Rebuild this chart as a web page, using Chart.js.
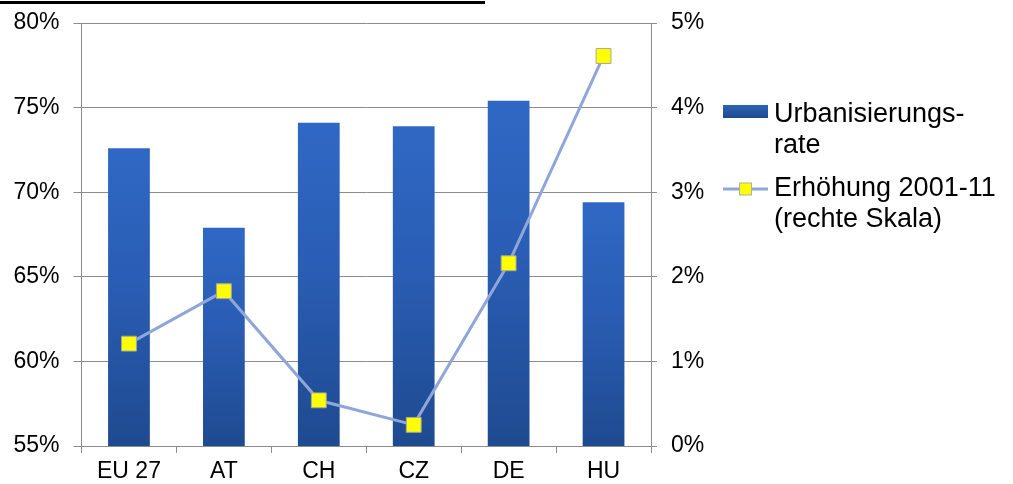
<!DOCTYPE html>
<html>
<head>
<meta charset="utf-8">
<script src="https://cdn.jsdelivr.net/npm/chart.js@4/dist/chart.umd.min.js"></script>
<style>
  html, body { margin: 0; padding: 0; background: #fff; }
  #wrap { position: relative; width: 1013px; height: 484px; }
  #rule { position: absolute; left: 0; top: 1px; width: 485px; height: 3px; background: #000; }
  canvas { position: absolute; left: 0; top: 0; }
</style>
</head>
<body>
<div id="wrap">
  <canvas id="c" width="1013" height="484"></canvas>
  <div id="rule"></div>
</div>
<script>
// Länder / Regionen
const categories = ['EU 27', 'AT', 'CH', 'CZ', 'DE', 'HU'];
// Urbanisierungsrate in %
const urbanisierungsrate = [72.6, 67.9, 74.1, 73.9, 75.4, 69.4];
// Erhöhung 2001-11 in Prozentpunkten (rechte Skala)
const erhoehung = [1.21, 1.83, 0.54, 0.25, 2.16, 4.61];
// Achsenbeschriftungen
const leftTicks = [55, 60, 65, 70, 75, 80];
const rightTicks = [0, 1, 2, 3, 4, 5];
const legendLabels = [['Urbanisierungs-', 'rate'], ['Erhöhung 2001-11', '(rechte Skala)']];

const FONT = '"Liberation Sans", Arial, sans-serif';
const BAR_FRACTION = 0.44;
const GRID = '#8c8c8c';

// vertical shading per bar: brighter at the top, darker toward the base
function barGradient(ctx) {
  const chart = ctx.chart;
  const y = chart.scales.yL;
  const fallback = '#2a5ca8';
  if (!y || !chart.chartArea || ctx.dataIndex === undefined) return fallback;
  const top = y.getPixelForValue(urbanisierungsrate[ctx.dataIndex]);
  const base = chart.chartArea.bottom;
  if (!isFinite(top) || !isFinite(base) || base <= top) return fallback;
  const g = chart.ctx.createLinearGradient(0, top, 0, base);
  g.addColorStop(0, '#2f68c4');
  g.addColorStop(0.45, '#2a5db4');
  g.addColorStop(1, '#1e4a8f');
  return g;
}

const legendPlugin = {
  id: 'sideLegend',
  afterDraw(chart) {
    const c = chart.ctx;
    const x0 = chart.chartArea.right + 72;
    c.save();
    // Balken-Symbol
    const sg = c.createLinearGradient(0, 105, 0, 118);
    sg.addColorStop(0, '#2d63b5');
    sg.addColorStop(1, '#1d4a8e');
    c.fillStyle = sg;
    c.fillRect(x0, 105, 45, 13);
    // Linien-Symbol
    c.strokeStyle = '#8fa6d9';
    c.lineWidth = 3;
    c.beginPath();
    c.moveTo(x0, 189);
    c.lineTo(x0 + 45, 189);
    c.stroke();
    c.fillStyle = '#ffff00';
    c.strokeStyle = '#b0b0a0';
    c.lineWidth = 1;
    c.fillRect(x0 + 16.5, 183, 12, 12);
    c.strokeRect(x0 + 16.5, 183, 12, 12);
    // Texte
    c.fillStyle = '#000';
    c.font = '27px ' + FONT;
    c.textBaseline = 'middle';
    c.textAlign = 'left';
    const tx = x0 + 51;
    c.fillText(legendLabels[0][0], tx, 115);
    c.fillText(legendLabels[0][1], tx, 146);
    c.fillText(legendLabels[1][0], tx, 189);
    c.fillText(legendLabels[1][1], tx, 220);
    c.restore();
  }
};

function fixY(width) {
  return function (s) {
    s.width = width;
    s.paddingTop = 0;
    s.paddingBottom = 0;
  };
}

new Chart(document.getElementById('c'), {
  data: {
    labels: categories,
    datasets: [
      {
        type: 'line',
        label: 'Erhöhung 2001-11 (rechte Skala)',
        data: erhoehung,
        yAxisID: 'yR',
        borderColor: '#8fa6d9',
        borderWidth: 3,
        pointStyle: 'rect',
        pointRadius: 10.5,
        pointBackgroundColor: '#ffff00',
        pointBorderColor: '#a8a898',
        pointBorderWidth: 1,
        tension: 0,
        order: 0
      },
      {
        type: 'bar',
        label: 'Urbanisierungsrate',
        data: urbanisierungsrate,
        yAxisID: 'yL',
        backgroundColor: barGradient,
        borderWidth: 0,
        categoryPercentage: 1,
        barPercentage: BAR_FRACTION,
        order: 1
      }
    ]
  },
  options: {
    responsive: false,
    animation: false,
    events: [],
    layout: { padding: { top: 23, right: 292, left: 0, bottom: 0 } },
    plugins: { legend: { display: false }, tooltip: { enabled: false } },
    scales: {
      x: {
        type: 'category',
        offset: true,
        grid: { display: true, drawOnChartArea: false, drawTicks: true, tickLength: 7, color: GRID, offset: true },
        border: { display: true, color: GRID, width: 1 },
        ticks: { color: '#000', font: { family: FONT, size: 23 }, padding: 5, maxRotation: 0 },
        afterFit(s) { s.height = 38; s.paddingLeft = 0; s.paddingRight = 0; }
      },
      yL: {
        type: 'linear',
        position: 'left',
        min: leftTicks[0],
        max: leftTicks[leftTicks.length - 1],
        afterBuildTicks(s) { s.ticks = leftTicks.map(v => ({ value: v })); },
        grid: { color: GRID, tickLength: 8, drawTicks: true },
        border: { display: true, color: GRID, width: 1 },
        ticks: { color: '#000', font: { family: FONT, size: 23 }, padding: 14, callback: v => v + '%' },
        afterFit: fixY(81.5)
      },
      yR: {
        type: 'linear',
        position: 'right',
        min: rightTicks[0],
        max: rightTicks[rightTicks.length - 1],
        afterBuildTicks(s) { s.ticks = rightTicks.map(v => ({ value: v })); },
        grid: { drawOnChartArea: false, color: GRID, tickLength: 6, drawTicks: true },
        border: { display: true, color: GRID, width: 1 },
        ticks: { color: '#000', font: { family: FONT, size: 23 }, padding: 14, callback: v => v + '%' },
        afterFit: fixY(70)
      }
    }
  },
  plugins: [legendPlugin]
});
</script>
</body>
</html>
